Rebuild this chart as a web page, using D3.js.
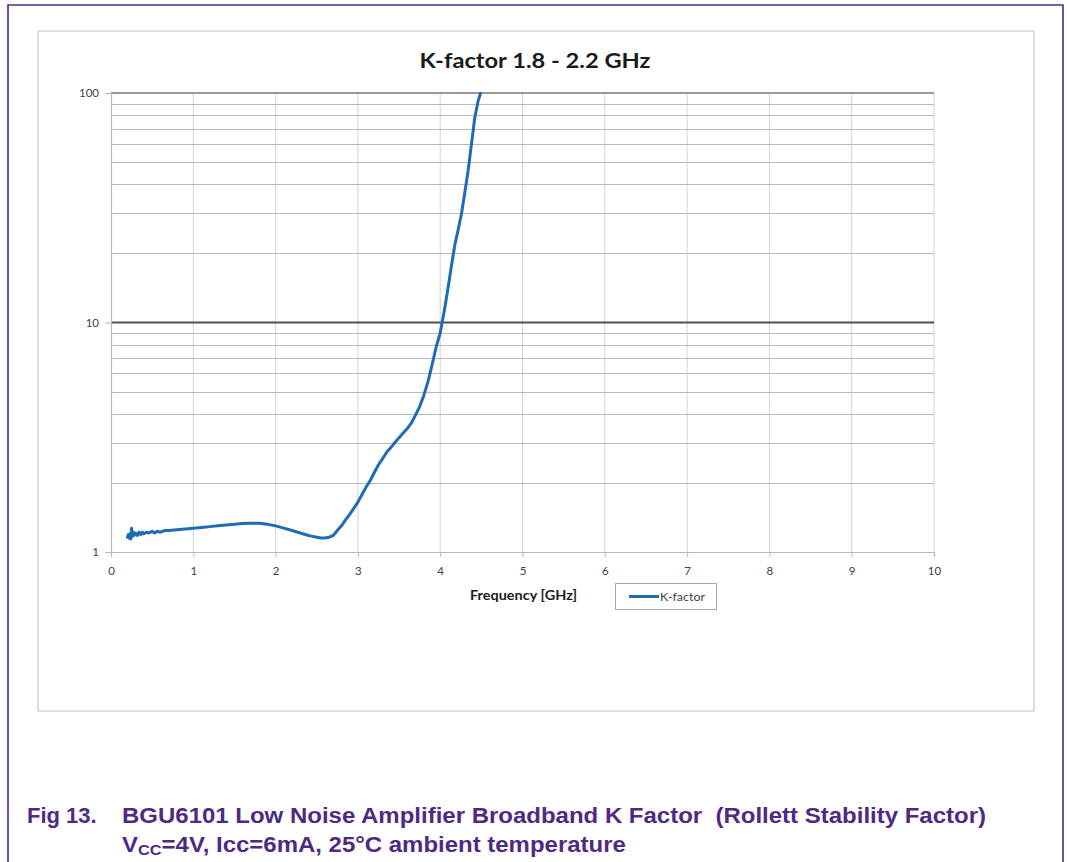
<!DOCTYPE html>
<html>
<head>
<meta charset="utf-8">
<script src="https://cdn.jsdelivr.net/npm/d3@7"></script>
<style>
  html, body { margin: 0; padding: 0; background: #fff; }
  svg { display: block; }
  text { white-space: pre; }
</style>
</head>
<body>
<svg id="chart" width="1067" height="862"></svg>
<script>
// ---------------- data ----------------
const freqGHz = [0.20,0.21,0.22,0.23,0.24,0.25,0.26,0.27,0.28,0.30,0.32,0.34,0.36,0.38,0.40,0.43,0.46,0.50,0.53,0.56,0.60,0.65,0.70,0.80,0.90,1.00,1.10,1.20,1.30,1.40,1.50,1.60,1.70,1.80,1.90,2.00,2.10,2.20,2.30,2.40,2.45,2.50,2.55,2.60,2.65,2.70,2.75,2.80,2.85,2.90,2.95,3.00,3.05,3.10,3.15,3.20,3.25,3.30,3.35,3.40,3.45,3.50,3.55,3.60,3.65,3.70,3.75,3.80,3.85,3.90,3.95,4.00,4.03,4.06,4.10,4.14,4.18,4.22,4.26,4.30,4.34,4.38,4.42,4.46,4.49];
const kFactor = [1.16,1.19,1.15,1.20,1.14,1.27,1.17,1.22,1.18,1.21,1.18,1.22,1.19,1.22,1.20,1.22,1.21,1.23,1.21,1.23,1.22,1.24,1.24,1.25,1.26,1.27,1.28,1.29,1.30,1.31,1.32,1.33,1.335,1.335,1.32,1.30,1.27,1.24,1.21,1.18,1.17,1.16,1.15,1.15,1.16,1.18,1.24,1.30,1.38,1.46,1.55,1.65,1.78,1.92,2.05,2.22,2.40,2.55,2.72,2.85,3.00,3.15,3.30,3.45,3.65,3.95,4.30,4.80,5.50,6.50,7.80,9.00,10.3,11.8,14.5,18.0,22.0,25.5,30.0,37.0,46.0,60.0,78.0,92.0,100.0];
const xTicks = [0,1,2,3,4,5,6,7,8,9,10];
const yTicks = [1,10,100];
const yMinor = [2,3,4,5,6,7,8,9,20,30,40,50,60,70,80,90];
const chartTitle = "K-factor 1.8 - 2.2 GHz";
const xAxisTitle = "Frequency [GHz]";
const seriesName = "K-factor";
const captionNum = "Fig 13.";
const captionLine1 = "BGU6101 Low Noise Amplifier Broadband K Factor  (Rollett Stability Factor)";

// ---------------- layout ----------------
const svg = d3.select("#chart");
const purple = "#4e2a82";
const lineBlue = "#1f6cb4";
const plot = { left: 111, right: 934, top: 93, bottom: 552 };

const x = d3.scaleLinear().domain([0, 10]).range([plot.left, plot.right]);
const y = d3.scaleLog().domain([1, 100]).range([plot.bottom, plot.top]);

// outer purple frame (open at bottom)
svg.append("path")
  .attr("d", `M8,862 V5 H1063 V862`)
  .attr("fill", "none").attr("stroke", purple).attr("stroke-width", 1.6);

// chart area box
svg.append("rect")
  .attr("x", 38).attr("y", 31).attr("width", 996).attr("height", 680)
  .attr("fill", "#fff").attr("stroke", "#c8c8c8").attr("stroke-width", 1.2);

// title
svg.append("text")
  .attr("x", 535).attr("y", 68)
  .attr("text-anchor", "middle")
  .attr("font-family", "Lato, 'Open Sans', sans-serif")
  .attr("font-weight", "bold").attr("font-size", 20)
  .attr("fill", "#1a1a1a")
  .attr("textLength", 231).attr("lengthAdjust", "spacingAndGlyphs")
  .text(chartTitle);

// vertical gridlines
svg.append("g").selectAll("line").data(xTicks.slice(1)).join("line")
  .attr("x1", d => x(d)).attr("x2", d => x(d))
  .attr("y1", plot.top).attr("y2", plot.bottom)
  .attr("stroke", "#d2d2d2").attr("stroke-width", 1);

// minor horizontal gridlines
svg.append("g").selectAll("line").data(yMinor).join("line")
  .attr("x1", plot.left).attr("x2", plot.right)
  .attr("y1", d => Math.round(y(d)) + 0.5).attr("y2", d => Math.round(y(d)) + 0.5)
  .attr("stroke", "#b8b8b8").attr("stroke-width", 1);

// major horizontal gridlines
svg.append("line")
  .attr("x1", plot.left).attr("x2", plot.right)
  .attr("y1", y(10)).attr("y2", y(10))
  .attr("stroke", "#505050").attr("stroke-width", 2);
svg.append("line")
  .attr("x1", plot.left).attr("x2", plot.right)
  .attr("y1", y(100)).attr("y2", y(100))
  .attr("stroke", "#9a9a9a").attr("stroke-width", 2);

// axes
const tickFont = "Lato, 'Open Sans', sans-serif";
const xAxis = svg.append("g")
  .attr("transform", `translate(0,${plot.bottom})`)
  .call(d3.axisBottom(x).tickValues(xTicks).tickSize(5).tickPadding(10).tickFormat(d3.format("d")));
const yAxis = svg.append("g")
  .attr("transform", `translate(${plot.left},0)`)
  .call(d3.axisLeft(y).tickValues(yTicks).tickSize(6).tickPadding(6).tickFormat(d3.format("d")));
[xAxis, yAxis].forEach(g => {
  g.select(".domain").attr("stroke", "#b8b8b8").attr("stroke-width", 1.2);
  g.selectAll(".tick line").attr("stroke", "#b8b8b8");
  g.selectAll(".tick text").attr("font-family", tickFont).attr("font-size", 11.5).attr("fill", "#404040");
});

// clip
svg.append("clipPath").attr("id", "plotclip")
  .append("rect").attr("x", plot.left).attr("y", plot.top - 1)
  .attr("width", plot.right - plot.left).attr("height", plot.bottom - plot.top + 1);

// series line
const pts = freqGHz.map((f, i) => [f, kFactor[i]]);
const line = d3.line().x(d => x(d[0])).y(d => y(d[1])).curve(d3.curveLinear);
svg.append("path")
  .attr("d", line(pts))
  .attr("clip-path", "url(#plotclip)")
  .attr("fill", "none").attr("stroke", lineBlue)
  .attr("stroke-width", 3).attr("stroke-linejoin", "round").attr("stroke-linecap", "round");

// x axis title
svg.append("text")
  .attr("x", 470).attr("y", 600)
  .attr("font-family", tickFont).attr("font-weight", "bold").attr("font-size", 13.5)
  .attr("fill", "#1a1a1a")
  .attr("textLength", 107).attr("lengthAdjust", "spacingAndGlyphs")
  .text(xAxisTitle);

// legend
const lg = svg.append("g");
lg.append("rect").attr("x", 615.5).attr("y", 583.5).attr("width", 101).attr("height", 26)
  .attr("fill", "#fff").attr("stroke", "#a8a8a8").attr("stroke-width", 1);
lg.append("line").attr("x1", 629).attr("x2", 659).attr("y1", 596.5).attr("y2", 596.5)
  .attr("stroke", lineBlue).attr("stroke-width", 3);
lg.append("text").attr("x", 660).attr("y", 601)
  .attr("font-family", tickFont).attr("font-size", 12).attr("fill", "#444")
  .attr("textLength", 45).attr("lengthAdjust", "spacingAndGlyphs")
  .text(seriesName);

// caption
const capFont = "'Liberation Sans', Arial, sans-serif";
svg.append("text")
  .attr("x", 27).attr("y", 823)
  .attr("font-family", capFont).attr("font-weight", "bold").attr("font-size", 22)
  .attr("fill", purple)
  .text(captionNum);
svg.append("text")
  .attr("x", 122).attr("y", 823)
  .attr("font-family", capFont).attr("font-weight", "bold").attr("font-size", 22)
  .attr("fill", purple)
  .attr("textLength", 864).attr("lengthAdjust", "spacingAndGlyphs")
  .text(captionLine1);
const cap2g = svg.append("g");
const cap2 = cap2g.append("text")
  .attr("x", 0).attr("y", 0)
  .attr("font-family", capFont).attr("font-weight", "bold").attr("font-size", 22)
  .attr("fill", purple);
cap2.append("tspan").text("V");
cap2.append("tspan").attr("font-size", 15).attr("dy", 3).text("CC");
cap2.append("tspan").attr("dy", -3).text("=4V, Icc=6mA, 25°C ambient temperature");
const w2 = cap2.node().getComputedTextLength();
const sx = w2 > 0 ? 504 / w2 : 1;
cap2g.attr("transform", `translate(122,852) scale(${sx},1)`);
</script>
</body>
</html>
